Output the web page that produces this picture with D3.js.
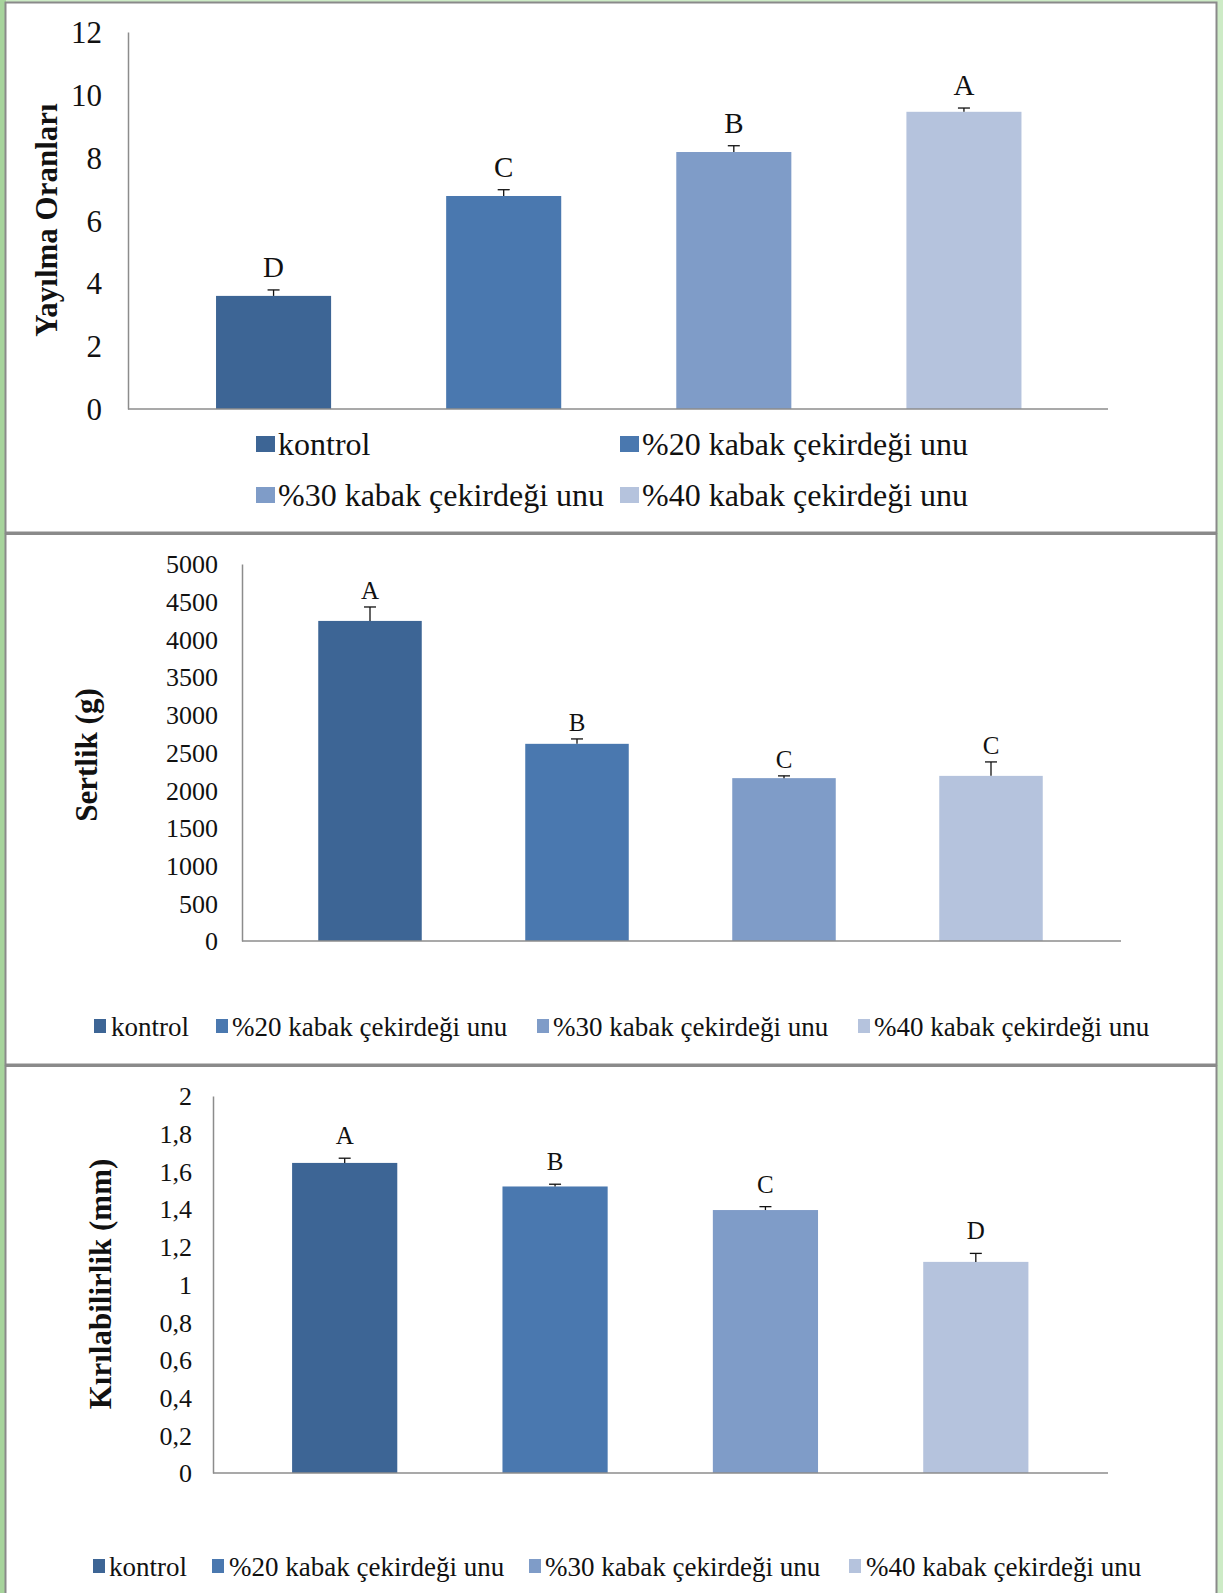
<!DOCTYPE html>
<html>
<head>
<meta charset="utf-8">
<script src="https://cdn.jsdelivr.net/npm/d3@7"></script>
<style>
  html, body { margin: 0; padding: 0; background: #ffffff; }
  svg { display: block; }
</style>
</head>
<body>
<svg id="chart" width="1223" height="1593"></svg>
<script>
// ---------- DATA ----------
const categories = ["kontrol", "%20 kabak çekirdeği unu", "%30 kabak çekirdeği unu", "%40 kabak çekirdeği unu"];
const barColors = ["#3D6595", "#4A78AF", "#7F9CC8", "#B5C3DD"];

const spreadValues  = [3.6, 6.78, 8.18, 9.46];
const spreadErrors  = [0.19, 0.2, 0.2, 0.12];
const spreadLetters = ["D", "C", "B", "A"];
const spreadTicks   = [0, 2, 4, 6, 8, 10, 12];
const spreadTitle   = "Yayılma Oranları";

const hardValues  = [4245, 2615, 2160, 2190];
const hardErrors  = [185, 65, 30, 185];
const hardLetters = ["A", "B", "C", "C"];
const hardTicks   = [0, 500, 1000, 1500, 2000, 2500, 3000, 3500, 4000, 4500, 5000];
const hardTitle   = "Sertlik (g)";

const fracValues  = [1.645, 1.52, 1.395, 1.12];
const fracErrors  = [0.025, 0.012, 0.018, 0.045];
const fracLetters = ["A", "B", "C", "D"];
const fracTicks   = [0, 0.2, 0.4, 0.6, 0.8, 1, 1.2, 1.4, 1.6, 1.8, 2];
const fracTitle   = "Kırılabilirlik (mm)";

const SERIF = "'Liberation Serif', 'Times New Roman', serif";

// ---------- FRAME ----------
const svg = d3.select("#chart");
svg.append("rect").attr("x", 0).attr("y", 0).attr("width", 1223).attr("height", 1593).attr("fill", "#cdebc6");
svg.append("rect").attr("x", 0).attr("y", 0).attr("width", 6).attr("height", 1593).attr("fill", "#a7d49c");

const panels = [
  {y0: 2.5, y1: 532.5},
  {y0: 534, y1: 1064.5},
  {y0: 1066, y1: 1600}
];
panels.forEach(p => {
  svg.append("rect")
    .attr("x", 5.5).attr("y", p.y0)
    .attr("width", 1211).attr("height", p.y1 - p.y0)
    .attr("fill", "#ffffff").attr("stroke", "#8a8a8a").attr("stroke-width", 2);
});

// ---------- PANEL DRAWER ----------
function drawPanel(cfg, values, errors, letters, ticks, title, fmt) {
  const g = svg.append("g");
  const y = d3.scaleLinear().domain([0, ticks[ticks.length - 1]]).range([cfg.yBottom, cfg.yTop]);
  const x = d3.scaleBand().domain(categories).range(cfg.bandRange).paddingInner(0.5).paddingOuter(0.25);

  // y axis
  const yAxis = d3.axisLeft(y).tickValues(ticks).tickSize(0).tickSizeOuter(0)
    .tickPadding(cfg.axisX0 - cfg.labelRight).tickFormat(fmt);
  const ya = g.append("g").attr("transform", `translate(${cfg.axisX0},0)`).call(yAxis);
  ya.attr("font-family", null).attr("font-size", null);
  ya.select(".domain").attr("stroke", "#8c8c8c").attr("stroke-width", 1.5);
  ya.selectAll(".tick text")
    .style("font-family", SERIF)
    .style("font-size", cfg.tickFont + "px").attr("fill", "#111")
    .attr("dy", "0.34em");

  // bars
  g.selectAll("rect.bar").data(values).join("rect")
    .attr("class", "bar")
    .attr("x", (d, i) => x(categories[i]))
    .attr("y", d => y(d))
    .attr("width", x.bandwidth())
    .attr("height", d => cfg.yBottom - y(d))
    .attr("fill", (d, i) => barColors[i]);

  // x baseline
  const xLine = d3.scaleLinear().domain([0, 1]).range([cfg.axisX0, cfg.axisX1]);
  g.append("line")
    .attr("x1", xLine(0)).attr("x2", xLine(1))
    .attr("y1", cfg.yBottom).attr("y2", cfg.yBottom)
    .attr("stroke", "#8c8c8c").attr("stroke-width", 1.5);

  // error bars + letters
  values.forEach((v, i) => {
    const cx = x(categories[i]) + x.bandwidth() / 2;
    g.append("line").attr("x1", cx).attr("x2", cx)
      .attr("y1", y(v)).attr("y2", y(v + errors[i]))
      .attr("stroke", "#111").attr("stroke-width", 1.3);
    g.append("line").attr("x1", cx - 6).attr("x2", cx + 6)
      .attr("y1", y(v + errors[i])).attr("y2", y(v + errors[i]))
      .attr("stroke", "#111").attr("stroke-width", 1.3);
    g.append("text")
      .attr("x", cx).attr("y", y(v + errors[i]) - cfg.letterGap)
      .attr("text-anchor", "middle")
      .style("font-family", SERIF)
      .style("font-size", cfg.letterFont + "px")
      .attr("fill", "#111")
      .text(letters[i]);
  });

  // y title
  g.append("text")
    .attr("transform", `translate(${cfg.titleX},${cfg.titleY}) rotate(-90)`)
    .attr("text-anchor", "middle")
    .attr("dy", "0.35em")
    .style("font-family", SERIF)
    .style("font-size", cfg.titleFont + "px")
    .style("font-weight", "bold")
    .attr("fill", "#111")
    .text(title);

  // legend
  cfg.legend.forEach((L, i) => {
    g.append("rect")
      .attr("x", L.mx).attr("y", L.baseline - cfg.markerH - cfg.markerLift)
      .attr("width", cfg.markerW).attr("height", cfg.markerH)
      .attr("fill", barColors[i]);
    g.append("text")
      .attr("x", L.tx).attr("y", L.baseline)
      .style("font-family", SERIF)
      .style("font-size", cfg.legendFont + "px")
      .attr("fill", "#111")
      .text(categories[i]);
  });
}

const fmtInt = d => String(d);
const fmtComma = d => String(+d.toFixed(1)).replace(".", ",");

drawPanel({
  axisX0: 128, axisX1: 1108, yTop: 32, yBottom: 409, bandRange: [158.5, 1079],
  labelRight: 102, tickFont: 31, letterFont: 29, letterGap: 13,
  titleX: 46, titleY: 220, titleFont: 31,
  legendFont: 32, markerW: 19, markerH: 16, markerLift: 3,
  legend: [
    {mx: 256, tx: 278, baseline: 455},
    {mx: 620, tx: 642, baseline: 455},
    {mx: 256, tx: 278, baseline: 506},
    {mx: 620, tx: 642, baseline: 506}
  ]
}, spreadValues, spreadErrors, spreadLetters, spreadTicks, spreadTitle, fmtInt);

drawPanel({
  axisX0: 242, axisX1: 1121, yTop: 564, yBottom: 941, bandRange: [266.5, 1094.5],
  labelRight: 218, tickFont: 26, letterFont: 25, letterGap: 8,
  titleX: 86, titleY: 755, titleFont: 31,
  legendFont: 27, markerW: 12, markerH: 14, markerLift: 3,
  legend: [
    {mx: 94, tx: 111, baseline: 1036},
    {mx: 216, tx: 232, baseline: 1036},
    {mx: 537, tx: 553, baseline: 1036},
    {mx: 858, tx: 874, baseline: 1036}
  ]
}, hardValues, hardErrors, hardLetters, hardTicks, hardTitle, fmtInt);

drawPanel({
  axisX0: 213, axisX1: 1108, yTop: 1096, yBottom: 1473, bandRange: [239.5, 1081],
  labelRight: 192, tickFont: 26, letterFont: 25, letterGap: 14,
  titleX: 100, titleY: 1284, titleFont: 31,
  legendFont: 27, markerW: 12, markerH: 14, markerLift: 3,
  legend: [
    {mx: 93, tx: 109, baseline: 1576},
    {mx: 212, tx: 229, baseline: 1576},
    {mx: 529, tx: 545, baseline: 1576},
    {mx: 849, tx: 866, baseline: 1576}
  ]
}, fracValues, fracErrors, fracLetters, fracTicks, fracTitle, fmtComma);
</script>
</body>
</html>
